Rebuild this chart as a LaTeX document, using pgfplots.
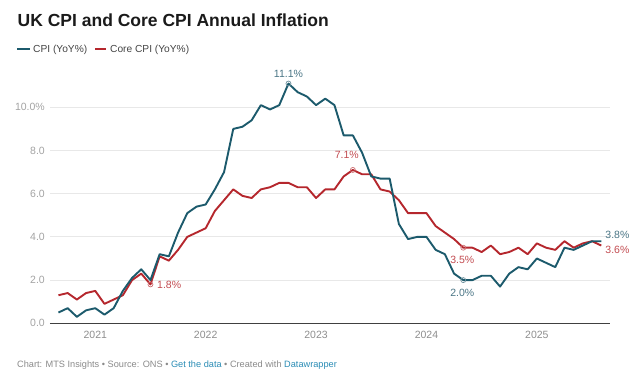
\documentclass[border=0pt]{standalone}
\usepackage{pgfplots}
\pgfplotsset{compat=1.18}
\usepackage{fontspec}
\setmainfont{Liberation Sans}
\definecolor{cpi}{HTML}{1C5A6C}
\definecolor{core}{HTML}{B5272D}
\definecolor{cpilab}{HTML}{4A7585}
\definecolor{corelab}{HTML}{C24B50}
\definecolor{gridc}{HTML}{E8E8E8}
\definecolor{ytl}{HTML}{A3A3A3}
\definecolor{xtl}{HTML}{8E8E8E}
\definecolor{foot}{HTML}{8A8A8A}
\definecolor{link}{HTML}{2A8CB5}
\definecolor{titlec}{HTML}{1A1A1A}
\definecolor{legc}{HTML}{444444}
\begin{document}
\begin{tikzpicture}
\path[use as bounding box] (0bp,0bp) rectangle (640bp,387bp);
% title
\node[anchor=base west, inner sep=0pt, font=\fontsize{17.5bp}{20bp}\selectfont\bfseries, text=titlec] at (17.5bp,360.3bp) {UK CPI and Core CPI Annual Inflation};
% legend
\draw[cpi, line width=2bp] (17bp,338bp) -- (30bp,338bp);
\node[anchor=base west, inner sep=0pt, font=\fontsize{10.2bp}{12bp}\selectfont, text=legc] at (33bp,334.5bp) {CPI (YoY\%)};
\draw[core, line width=2bp] (95bp,338bp) -- (106bp,338bp);
\node[anchor=base west, inner sep=0pt, font=\fontsize{10.2bp}{12bp}\selectfont, text=legc] at (110bp,334.5bp) {Core CPI (YoY\%)};
% footer
\node[anchor=base west, inner sep=0pt, font=\fontsize{9.2bp}{11bp}\selectfont, text=foot] at (17bp,20bp) {Chart: MTS Insights • Source: ONS • \textcolor{link}{Get the data} • Created with \textcolor{link}{Datawrapper}};
\begin{axis}[
  at={(50bp,63.7bp)}, anchor=south west,
  scale only axis, width=560bp, height=241.92bp,
  xmin=-4.92, xmax=55.95, ymin=0, ymax=11.2,
  axis line style={draw=none},
  clip=false,
  xtick={0,12,24,36,48},
  xticklabels={2021,2022,2023,2024,2025},
  ytick={2,4,6,8,10},
  yticklabels={2.0,4.0,6.0,8.0,10.0\%},
  extra y ticks={0},
  extra y tick labels={0.0},
  extra y tick style={grid style={color=black!75, line width=1.3bp}},
  major tick length=0pt,
  tick style={draw=none},
  ymajorgrids,
  grid style={color=gridc, line width=0.9bp},
  yticklabel style={font=\fontsize{10.5bp}{12bp}\selectfont, text=ytl, anchor=east, inner sep=0pt, xshift=-5bp},
  xticklabel style={font=\fontsize{10.5bp}{12bp}\selectfont, text=xtl, anchor=north, inner sep=0pt, yshift=-8bp},
  /pgf/number format/assume math mode=true,
]
\addplot[core, line width=1.9bp, line join=round] coordinates {
(-4,1.3)(-3,1.4)(-2,1.1)(-1,1.4)(0,1.5)(1,0.9)(2,1.1)(3,1.3)(4,2.0)(5,2.3)(6,1.8)(7,3.1)(8,2.9)(9,3.4)(10,4.0)(11,4.2)
(12,4.4)(13,5.2)(14,5.7)(15,6.2)(16,5.9)(17,5.8)(18,6.2)(19,6.3)(20,6.5)(21,6.5)(22,6.3)(23,6.3)
(24,5.8)(25,6.2)(26,6.2)(27,6.8)(28,7.1)(29,6.9)(30,6.9)(31,6.2)(32,6.1)(33,5.7)(34,5.1)(35,5.1)
(36,5.1)(37,4.5)(38,4.2)(39,3.9)(40,3.5)(41,3.5)(42,3.3)(43,3.6)(44,3.2)(45,3.3)(46,3.5)(47,3.2)
(48,3.7)(49,3.5)(50,3.4)(51,3.8)(52,3.5)(53,3.7)(54,3.8)(55,3.6)};
\addplot[cpi, line width=1.9bp, line join=round] coordinates {
(-4,0.5)(-3,0.7)(-2,0.3)(-1,0.6)(0,0.7)(1,0.4)(2,0.7)(3,1.5)(4,2.1)(5,2.5)(6,2.0)(7,3.2)(8,3.1)(9,4.2)(10,5.1)(11,5.4)
(12,5.5)(13,6.2)(14,7.0)(15,9.0)(16,9.1)(17,9.4)(18,10.1)(19,9.9)(20,10.1)(21,11.1)(22,10.7)(23,10.5)
(24,10.1)(25,10.4)(26,10.1)(27,8.7)(28,8.7)(29,7.9)(30,6.8)(31,6.7)(32,6.7)(33,4.6)(34,3.9)(35,4.0)
(36,4.0)(37,3.4)(38,3.2)(39,2.3)(40,2.0)(41,2.0)(42,2.2)(43,2.2)(44,1.7)(45,2.3)(46,2.6)(47,2.5)
(48,3.0)(49,2.8)(50,2.6)(51,3.5)(52,3.4)(53,3.6)(54,3.8)(55,3.8)};
% annotation markers
\addplot[only marks, mark=o, mark size=2.5bp, mark options={draw=cpilab!80, line width=0.7bp}] coordinates {(21,11.1)(40,2.0)};
\addplot[only marks, mark=o, mark size=2.5bp, mark options={draw=corelab!80, line width=0.7bp}] coordinates {(28,7.1)(6,1.8)(40,3.5)};
% annotation labels
\node[font=\fontsize{10.5bp}{12bp}\selectfont, text=cpilab, inner sep=0pt, yshift=10bp] at (axis cs:21,11.1) {11.1\%};
\node[font=\fontsize{10.5bp}{12bp}\selectfont, text=corelab, inner sep=0pt, xshift=-6bp, yshift=15bp] at (axis cs:28,7.1) {7.1\%};
\node[font=\fontsize{10.5bp}{12bp}\selectfont, text=corelab, inner sep=0pt, anchor=west, xshift=6.5bp] at (axis cs:6,1.8) {1.8\%};
\node[font=\fontsize{10.5bp}{12bp}\selectfont, text=corelab, inner sep=0pt, xshift=-1bp, yshift=-12.5bp] at (axis cs:40,3.5) {3.5\%};
\node[font=\fontsize{10.5bp}{12bp}\selectfont, text=cpilab, inner sep=0pt, xshift=-1bp, yshift=-13bp] at (axis cs:40,2.0) {2.0\%};
\node[font=\fontsize{10.5bp}{12bp}\selectfont, text=cpilab, inner sep=0pt, anchor=west, xshift=4bp, yshift=6bp] at (axis cs:55,3.8) {3.8\%};
\node[font=\fontsize{10.5bp}{12bp}\selectfont, text=corelab, inner sep=0pt, anchor=west, xshift=4bp, yshift=-4.5bp] at (axis cs:55,3.6) {3.6\%};
\end{axis}
\end{tikzpicture}
\end{document}
